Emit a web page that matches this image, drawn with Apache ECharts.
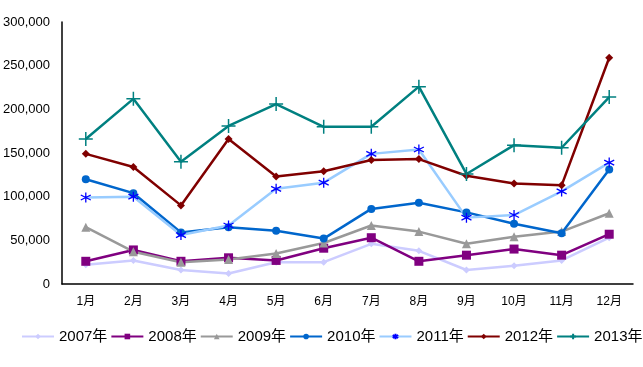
<!DOCTYPE html>
<html><head><meta charset="utf-8">
<script src="https://cdn.jsdelivr.net/npm/echarts@6/dist/echarts.min.js"></script>
<style>html,body{margin:0;padding:0;background:#fff}#c{width:643px;height:367px}</style>
</head><body><div id="c"></div>
<script>
const categories = ['1月','2月','3月','4月','5月','6月','7月','8月','9月','10月','11月','12月'];
const yTicks = [0,50000,100000,150000,200000,250000,300000];
const s2007 = [22000,27000,16000,12000,25000,25000,46000,38000,16000,21000,27000,53000];
const s2008 = [26000,39000,26000,30000,27000,41000,53000,26000,33000,40000,33000,57000];
const s2009 = [65000,37000,25000,28000,35000,47000,67000,60000,46000,54000,60000,81000];
const s2010 = [120000,104000,59000,65000,61000,52000,86000,93000,82000,69000,58000,131000];
const s2011 = [99000,100000,56000,67000,109000,116000,149000,154000,76000,79000,106000,139000];
const s2012 = [149000,134000,90000,166000,123000,129000,142000,143000,124000,115000,113000,259000];
const s2013 = [166000,212000,140000,181000,206000,180000,180000,226000,126000,159000,156000,214000];

const asterisk = 'path://M5,0 L5,10 M0.7,2.5 L9.3,7.5 M0.7,7.5 L9.3,2.5';
const plus = 'path://M5,0 L5,10 M0,5 L10,5';

function mk(name, data, color, symbol, size, extra) {
  return Object.assign({
    name, type: 'line', data, symbol, symbolSize: size,
    lineStyle: { color, width: 2.5 },
    itemStyle: { color },
    emphasis: { disabled: true },
    animation: false
  }, extra || {});
}
const series = [
  mk('2007年', s2007, '#CCCCFF', 'diamond', 7),
  mk('2008年', s2008, '#800080', 'rect', 9),
  mk('2009年', s2009, '#999999', 'triangle', 9),
  mk('2010年', s2010, '#0066CC', 'circle', 8),
  mk('2011年', s2011, '#99CCFF', asterisk, 10, { itemStyle: { color: 'none', borderColor: '#0000FF', borderWidth: 1.3 } }),
  mk('2012年', s2012, '#800000', 'diamond', 8),
  mk('2013年', s2013, '#008080', plus, 14, { itemStyle: { color: 'none', borderColor: '#008080', borderWidth: 1.5 } })
];

const chart = echarts.init(document.getElementById('c'), null, { renderer: 'canvas' });
chart.setOption({
  animation: false,
  textStyle: { fontFamily: 'Liberation Sans, Arial, Noto Sans CJK SC, sans-serif' },
  grid: { left: 62, right: 10, top: 22, bottom: 83, containLabel: false },
  legend: {
    bottom: 23, left: 21, width: 622, padding: 0, itemWidth: 32, itemHeight: 7, itemGap: 3,
    textStyle: { fontSize: 15, color: '#000', fontFamily: 'Liberation Sans, Arial, Noto Sans CJK SC, sans-serif' },
    data: series.map(s => s.name)
  },
  xAxis: {
    type: 'category', data: categories, boundaryGap: true,
    axisLine: { lineStyle: { color: '#000', width: 1.5 } },
    axisTick: { inside: true, length: 6, lineStyle: { color: '#000' } },
    axisLabel: { color: '#000', fontSize: 12, margin: 12 }
  },
  yAxis: {
    type: 'value', min: yTicks[0], max: yTicks[yTicks.length - 1], interval: yTicks[1] - yTicks[0],
    axisLine: { show: true, lineStyle: { color: '#000', width: 1.5 } },
    axisTick: { show: false },
    splitLine: { show: false },
    axisLabel: { color: '#000', fontSize: 13, margin: 12, formatter: v => v.toLocaleString('en-US') }
  },
  series
});
</script></body></html>
